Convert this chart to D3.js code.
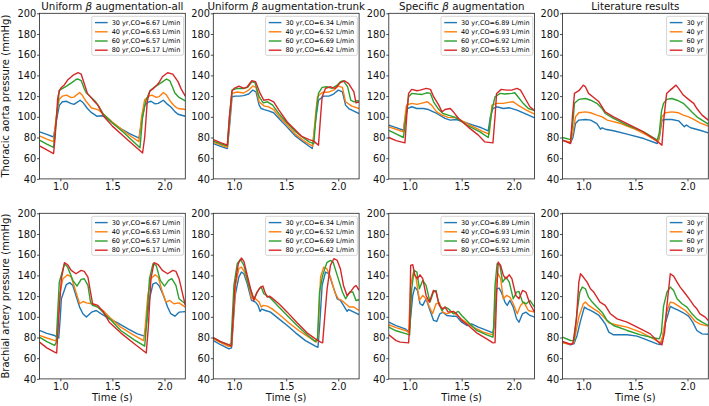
<!DOCTYPE html>
<html><head><meta charset="utf-8">
<script src="https://cdn.jsdelivr.net/npm/d3@7"></script>
<style>body{margin:0;background:#fff}svg{display:block}</style>
</head><body>
<svg id="chart" width="709" height="406"></svg>
<script>
// ---------- labels ----------
const titles = ["augmentation-all", "augmentation-trunk", "augmentation", "Literature results"];
const titlePrefix = ["Uniform ", "Uniform ", "Specific ", ""];
const rowLabels = ["Thoracic aorta pressure (mmHg)", "Brachial artery pressure (mmHg)"];
const ages = ["30 yr", "40 yr", "60 yr", "80 yr"];
const coAll = ["6.67", "6.63", "6.57", "6.17"];
const coTrunk = ["6.34", "6.52", "6.69", "6.42"];
const coSpecific = ["6.89", "6.93", "6.92", "6.53"];
const xTicks = [1.0, 1.5, 2.0];
const yTicks = [40, 60, 80, 100, 120, 140, 160, 180, 200];
const xDomain = [0.8, 2.2];
const yDomain = [40, 200];
const xLabel = "Time (s)";
const colors = ["#1f77b4", "#ff7f0e", "#2ca02c", "#d62728"];

// ---------- Thoracic aorta, uniform-all ----------
const aA30 = [[0.80,85.5],[0.87,83],[0.935,80.5],[0.96,95],[0.99,111],[1.02,114.5],[1.06,115],[1.10,113],[1.13,112],[1.16,114],[1.19,116],[1.22,113.5],[1.26,108],[1.30,104],[1.35,100.6],[1.40,101],[1.43,100],[1.50,94],[1.58,88.7],[1.66,84],[1.755,79.5],[1.78,95],[1.81,111],[1.84,114],[1.87,115],[1.91,112.5],[1.94,113],[1.99,116],[2.03,112],[2.06,109.7],[2.10,105],[2.13,102.5],[2.20,100.5]];
const aA40 = [[0.80,81.5],[0.87,78.5],[0.935,76],[0.96,100],[0.99,117],[1.02,120],[1.06,121],[1.10,118.7],[1.13,119],[1.185,123.5],[1.21,121],[1.25,114.5],[1.30,108.5],[1.36,107],[1.41,103],[1.50,95],[1.60,87],[1.68,81],[1.755,76],[1.78,100],[1.81,116.5],[1.85,120],[1.88,121],[1.92,118.7],[1.95,119.5],[1.99,123.5],[2.02,121],[2.06,114.5],[2.10,110],[2.13,108],[2.20,107]];
const aA60 = [[0.80,77.5],[0.87,73.5],[0.935,70.5],[0.96,95],[0.99,125.5],[1.03,128],[1.06,129.7],[1.11,133],[1.15,136],[1.17,136.5],[1.20,135],[1.23,127],[1.25,123],[1.30,118.5],[1.34,114.5],[1.37,110],[1.41,103],[1.50,94],[1.60,85.5],[1.68,78],[1.765,70],[1.79,100],[1.82,115],[1.86,125],[1.90,128.4],[1.94,131],[1.97,133],[2.02,136.5],[2.05,135],[2.08,128],[2.10,123],[2.14,118.7],[2.20,115.5]];
const aA80 = [[0.80,72],[0.87,68],[0.935,64.5],[0.95,80],[0.975,118],[0.99,125],[1.01,128.4],[1.04,131],[1.07,135.5],[1.12,140],[1.17,142.6],[1.20,141.3],[1.23,132],[1.26,122.6],[1.31,116.8],[1.36,111.3],[1.42,100],[1.50,91],[1.60,82],[1.70,73],[1.79,65],[1.81,80],[1.835,115],[1.86,125],[1.89,127],[1.93,131],[1.95,133.5],[1.98,138.7],[2.03,142.6],[2.08,141.3],[2.13,134],[2.16,127],[2.20,120]];

// ---------- Thoracic aorta, uniform-trunk ----------
const aT30 = [[0.80,74],[0.87,71.5],[0.935,69.3],[0.96,95],[0.98,119.4],[1.01,120],[1.05,120],[1.09,120.5],[1.14,122],[1.18,125.8],[1.21,124],[1.24,111.3],[1.26,108],[1.29,107],[1.33,105.8],[1.38,103.9],[1.43,98.4],[1.50,91],[1.59,81.3],[1.66,76],[1.72,71.6],[1.75,69.4],[1.78,95],[1.81,116],[1.86,120],[1.91,120],[1.955,122],[2.00,125.8],[2.04,124],[2.07,111.3],[2.10,108],[2.12,107],[2.20,103]];
const aT40 = [[0.80,75.5],[0.87,73],[0.935,70.5],[0.96,100],[0.98,122.6],[1.03,124],[1.09,123],[1.14,125.8],[1.18,129.7],[1.21,128.4],[1.24,114.5],[1.29,110.3],[1.33,109.7],[1.38,107],[1.43,100.6],[1.50,93],[1.59,83],[1.66,77.5],[1.72,73.5],[1.755,71.6],[1.78,100],[1.80,119.4],[1.845,123.5],[1.91,124],[1.955,125.8],[2.00,129.7],[2.04,128.4],[2.07,114.5],[2.13,110.3],[2.20,108]];
const aT60 = [[0.80,76.5],[0.87,74],[0.935,72],[0.955,100],[0.98,125.8],[1.03,127.4],[1.09,127.4],[1.13,128.4],[1.17,133.9],[1.20,133],[1.24,119.4],[1.28,113.5],[1.32,114.5],[1.37,111.3],[1.43,103],[1.50,95],[1.59,85.5],[1.66,80],[1.72,75.8],[1.765,74],[1.79,105],[1.81,122.6],[1.845,128.4],[1.89,129],[1.94,127.4],[1.99,130.6],[2.02,133.9],[2.05,134.8],[2.09,129],[2.12,116],[2.15,114.5],[2.18,115.5],[2.20,115]];
const aT80 = [[0.80,78],[0.87,75],[0.935,72.6],[0.955,100],[0.98,125],[1.00,127.4],[1.046,129.7],[1.094,127.4],[1.126,129],[1.17,134.8],[1.205,134],[1.25,122.6],[1.285,116],[1.33,116.8],[1.38,114.5],[1.43,106.5],[1.51,95],[1.59,87],[1.65,81],[1.72,78],[1.765,76.5],[1.81,72.6],[1.83,100],[1.845,119.4],[1.877,127.4],[1.925,129],[1.97,127.4],[2.02,133],[2.06,134.8],[2.10,132],[2.15,124],[2.17,113.5],[2.20,114.5]];

// ---------- Thoracic aorta, specific ----------
const aS30 = [[0.80,92],[0.87,89.5],[0.94,87],[0.96,100],[0.98,108],[1.02,109.7],[1.07,108],[1.13,108],[1.18,107],[1.26,103.2],[1.34,98.4],[1.39,96.8],[1.45,97.4],[1.52,95],[1.61,92],[1.69,89.4],[1.755,86.5],[1.775,100],[1.80,108],[1.835,109.7],[1.90,108],[1.96,108.7],[2.03,106.5],[2.12,102.6],[2.20,99]];
const aS40 = [[0.80,90.3],[0.87,88],[0.94,85.5],[0.955,100],[0.97,111.3],[1.02,113],[1.07,112],[1.13,113.5],[1.17,114.5],[1.21,111.3],[1.26,104.8],[1.31,101.6],[1.37,99.4],[1.45,99],[1.58,92],[1.70,86],[1.765,83.2],[1.78,100],[1.79,111.3],[1.835,113],[1.90,113],[1.96,114.2],[1.995,114.5],[2.04,111.3],[2.12,106.5],[2.20,102.5]];
const aS60 = [[0.80,87],[0.87,83.5],[0.94,80],[0.965,100],[0.99,119.4],[1.02,122.6],[1.07,122],[1.12,121.6],[1.165,123.2],[1.20,122.6],[1.23,114.5],[1.28,107],[1.32,103.2],[1.37,101.6],[1.44,99.4],[1.55,92],[1.675,85.5],[1.755,80],[1.79,106.5],[1.82,119.4],[1.87,122.6],[1.915,122],[1.98,122.6],[2.01,123.2],[2.04,119.4],[2.09,113],[2.14,108],[2.20,106]];
const aS80 = [[0.80,80],[0.87,77],[0.955,74.8],[0.975,105],[0.99,122.6],[1.02,126.5],[1.07,125.2],[1.10,125.8],[1.16,127.4],[1.20,126.5],[1.23,119.4],[1.28,111.3],[1.31,104.8],[1.34,107],[1.39,108],[1.42,104.8],[1.47,98.4],[1.56,90.3],[1.66,82.3],[1.72,75.8],[1.80,74.8],[1.82,100],[1.835,122.6],[1.88,126.5],[1.93,125.8],[1.98,125.8],[2.03,127.4],[2.065,125.8],[2.11,117.7],[2.155,109.7],[2.20,106]];

// ---------- Thoracic aorta, literature ----------
const aL30 = [[0.80,77.4],[0.877,74.8],[0.90,80],[0.925,93.5],[0.957,96.8],[1.02,97.4],[1.07,96.8],[1.13,93.5],[1.165,88],[1.18,89.4],[1.21,88],[1.29,86.5],[1.42,83.2],[1.58,79],[1.71,74.2],[1.73,80],[1.755,96.8],[1.79,97.4],[1.85,97.4],[1.915,96.1],[1.97,90.3],[1.99,92],[2.03,89.4],[2.12,87],[2.20,84.5]];
const aL40 = [[0.80,77],[0.877,75.8],[0.90,85],[0.925,100],[0.957,103.9],[1.02,104.8],[1.07,103.9],[1.13,101.6],[1.18,100],[1.23,96.8],[1.36,93.5],[1.48,88.7],[1.61,82.3],[1.72,75.8],[1.735,85],[1.755,100],[1.79,103.9],[1.85,104.8],[1.915,103.9],[1.96,101.6],[2.01,100],[2.06,97.4],[2.12,94.2],[2.20,91]];
const aL60 = [[0.80,80],[0.877,78],[0.90,95],[0.915,113],[0.957,116.8],[1.02,117.7],[1.07,116],[1.13,113],[1.18,108],[1.21,103.2],[1.29,98.4],[1.42,92],[1.58,85.5],[1.71,77.4],[1.73,85],[1.75,105],[1.77,113],[1.80,116.8],[1.85,117.7],[1.90,116],[1.96,113],[2.01,108],[2.04,104.8],[2.09,100],[2.20,93]];
const aL80 = [[0.80,77.4],[0.877,74.2],[0.895,100],[0.915,122.6],[0.957,125.2],[1.00,130.6],[1.02,129],[1.05,122.6],[1.10,118.7],[1.15,114.5],[1.18,109.7],[1.21,104.8],[1.29,100],[1.42,93.5],[1.55,87],[1.675,79],[1.755,72.6],[1.775,100],[1.80,122.6],[1.835,125.8],[1.89,130.6],[1.915,127.4],[1.96,121],[2.01,116.8],[2.06,113],[2.09,108],[2.14,101.6],[2.20,96.8]];

// ---------- Brachial artery, uniform-all ----------
const bA30 = [[0.80,86.8],[0.87,84],[0.945,81.9],[0.985,79.5],[1.00,100],[1.01,117.4],[1.057,131],[1.09,133],[1.12,130.3],[1.15,120.6],[1.185,109.4],[1.217,103],[1.25,99.7],[1.30,104.5],[1.345,106.1],[1.39,103],[1.46,98.7],[1.55,94.2],[1.65,88.4],[1.74,83.5],[1.81,81.3],[1.835,100],[1.856,117.4],[1.89,131.9],[1.92,133],[1.95,129.7],[1.99,120.6],[2.03,109.4],[2.06,103],[2.10,100.6],[2.14,104.5],[2.20,105]];
const bA40 = [[0.80,82],[0.87,79.5],[0.95,77],[0.97,77.5],[0.99,120],[1.025,136.8],[1.07,140.6],[1.105,138.4],[1.15,123.9],[1.185,112.6],[1.217,114.8],[1.25,113.5],[1.30,112.6],[1.345,110.3],[1.41,106.1],[1.49,98],[1.58,90],[1.70,82.6],[1.80,77],[1.815,90],[1.84,120.6],[1.87,136.8],[1.91,140.6],[1.94,138.4],[1.98,123.9],[2.015,114.2],[2.05,115.8],[2.09,112.6],[2.14,113.5],[2.20,109.4]];
const bA60 = [[0.80,80.3],[0.87,76],[0.945,72.3],[0.96,75],[0.99,133.5],[1.04,151.3],[1.07,148],[1.12,135.2],[1.16,129.7],[1.20,136.1],[1.23,136.8],[1.265,130.3],[1.29,114.2],[1.31,111],[1.36,109.4],[1.41,104.5],[1.49,96.5],[1.58,86.8],[1.71,77.7],[1.81,71.6],[1.83,95],[1.856,136.8],[1.89,151.3],[1.92,149.7],[1.96,135.2],[2.00,129.7],[2.04,135.2],[2.07,136.8],[2.11,130.3],[2.14,117.4],[2.20,112.6]];
const bA80 = [[0.80,75.5],[0.87,70],[0.945,65.8],[0.965,65],[0.985,100],[1.01,136.8],[1.04,152.3],[1.07,150.3],[1.105,144.8],[1.15,141.6],[1.20,144.8],[1.23,143.9],[1.265,138.4],[1.29,123.9],[1.31,112.6],[1.36,111],[1.41,105.2],[1.47,94.8],[1.58,84.5],[1.71,73.9],[1.825,65],[1.845,90],[1.87,136.8],[1.90,152.3],[1.94,150.3],[1.98,144.8],[2.03,141.6],[2.08,144.8],[2.11,143.9],[2.14,136.8],[2.17,123.9],[2.20,111]];

// ---------- Brachial artery, uniform-trunk ----------
const bT30 = [[0.80,77],[0.87,73],[0.95,69],[0.975,70],[1.01,120.6],[1.045,138.4],[1.07,143.2],[1.094,141.6],[1.126,131.9],[1.167,115.8],[1.205,114.2],[1.23,111],[1.25,105.2],[1.265,107.5],[1.30,106.1],[1.35,104.5],[1.43,98],[1.51,91.6],[1.59,84.5],[1.685,77],[1.78,71.6],[1.805,70.6],[1.82,90],[1.845,130.3],[1.877,143.2],[1.91,141.6],[1.947,130.3],[1.99,117.4],[2.02,115.8],[2.05,111],[2.085,105.2],[2.10,107],[2.15,104.5],[2.20,102]];
const bT40 = [[0.80,78.7],[0.87,75],[0.95,71.3],[0.975,72],[1.014,130.3],[1.045,146.5],[1.07,148],[1.10,143.2],[1.14,130.3],[1.17,117.4],[1.20,118],[1.24,114.2],[1.26,109.4],[1.28,111],[1.32,110.3],[1.365,107.7],[1.445,101.3],[1.525,94.2],[1.62,86.8],[1.717,80.3],[1.787,75.5],[1.805,80],[1.83,138.4],[1.86,148],[1.89,146.5],[1.925,138.4],[1.966,123.9],[2.00,117.4],[2.035,115.8],[2.07,112.6],[2.107,109.4],[2.15,109.4],[2.20,106.1]];
const bT60 = [[0.80,79.7],[0.87,76],[0.95,72.9],[0.97,74],[0.998,130.3],[1.03,151.3],[1.06,155.5],[1.094,149.7],[1.14,130.3],[1.19,117.4],[1.24,127.1],[1.26,128.7],[1.285,122.3],[1.31,120.6],[1.35,118],[1.43,109.4],[1.51,101.3],[1.605,91.6],[1.70,82.6],[1.78,76.2],[1.80,78],[1.82,123.9],[1.85,140],[1.89,152.3],[1.925,154.5],[1.95,152.9],[1.99,140],[2.04,123.9],[2.07,117.4],[2.11,123.9],[2.14,123.9],[2.17,115.8],[2.20,116.5]];
const bT80 = [[0.80,80],[0.87,76],[0.95,72.9],[0.975,71.6],[1.008,130.3],[1.04,151.3],[1.07,156.8],[1.094,153.5],[1.126,140],[1.158,127.1],[1.19,115.8],[1.22,123.9],[1.254,128.7],[1.276,129.7],[1.295,123.9],[1.318,119],[1.34,120],[1.365,118],[1.43,112.6],[1.51,104.5],[1.605,94.2],[1.70,84.5],[1.78,78.7],[1.83,75.5],[1.85,74.8],[1.87,100],[1.893,127.1],[1.925,149.7],[1.957,156.1],[1.99,154.5],[2.02,146.5],[2.05,130.3],[2.084,120.6],[2.116,123.9],[2.15,128.7],[2.17,130.3],[2.20,125.5]];

// ---------- Brachial artery, specific ----------
const bS30 = [[0.80,94.8],[0.87,91.5],[0.957,88.4],[0.99,85.8],[1.00,90],[1.03,120.6],[1.05,128.7],[1.075,125.5],[1.10,112.6],[1.126,111],[1.158,117.4],[1.19,107.7],[1.23,96.5],[1.26,95.5],[1.29,102.9],[1.32,104.5],[1.356,101.3],[1.404,100.6],[1.45,100.6],[1.50,94.8],[1.55,91.6],[1.595,93.2],[1.66,90],[1.74,86.8],[1.80,84.5],[1.81,90],[1.835,127.1],[1.86,127.7],[1.88,123.9],[1.915,114.2],[1.937,111],[1.963,115.8],[1.995,109.4],[2.027,98],[2.05,94.8],[2.084,102.9],[2.116,104.5],[2.155,101.3],[2.20,99.7]];
const bS40 = [[0.80,92.3],[0.87,89.5],[0.957,86.8],[0.99,85],[1.01,130.3],[1.036,143.2],[1.06,138.4],[1.094,115.8],[1.126,120.6],[1.158,117.4],[1.19,109.4],[1.22,102.9],[1.254,112.6],[1.285,113.5],[1.317,104.5],[1.356,102.9],[1.404,104.5],[1.45,102],[1.515,96.5],[1.61,90],[1.707,85.2],[1.80,82.6],[1.81,95],[1.83,133.5],[1.85,141.6],[1.874,136.8],[1.90,117.4],[1.93,120.6],[1.963,119],[1.995,112.6],[2.033,102.9],[2.065,111],[2.097,114.2],[2.14,106.1],[2.20,104.5]];
const bS60 = [[0.80,90],[0.87,86.5],[0.97,83.5],[1.00,82.5],[1.02,127.1],[1.043,144.8],[1.07,143.2],[1.094,127.1],[1.126,135.2],[1.158,130.3],[1.196,114.2],[1.228,123.9],[1.254,125.5],[1.276,114.2],[1.31,106.1],[1.34,109.4],[1.37,108],[1.42,102.9],[1.468,105.2],[1.50,101.3],[1.564,94.8],[1.643,86.8],[1.74,82.6],[1.80,80.3],[1.805,85],[1.82,130.3],[1.84,151.3],[1.867,149.7],[1.893,133.5],[1.925,138.4],[1.957,133.5],[1.995,117.4],[2.027,123.9],[2.05,124.5],[2.084,114.2],[2.12,112.6],[2.155,115.8],[2.20,109.4]];
const bS80 = [[0.80,82.6],[0.87,77],[0.91,75.5],[0.99,74.8],[1.00,90],[1.01,149.7],[1.03,150.3],[1.05,140],[1.075,136.8],[1.10,140.6],[1.126,136.8],[1.158,120.6],[1.19,114.2],[1.228,125.5],[1.254,123.9],[1.285,111],[1.317,107.7],[1.34,109.4],[1.37,104.5],[1.42,105.2],[1.45,103],[1.50,96.5],[1.564,91.6],[1.643,84.5],[1.74,78.7],[1.80,74.8],[1.82,75],[1.835,120],[1.85,152.9],[1.874,149.7],[1.90,140],[1.925,136.8],[1.957,140.6],[1.982,136.8],[2.02,120.6],[2.05,117.4],[2.084,125.5],[2.116,123.9],[2.155,112.6],[2.20,104.5]];

// ---------- Brachial artery, literature ----------
const bL30 = [[0.80,75.5],[0.877,72.9],[0.91,74],[0.94,82],[0.97,94.8],[1.01,109.4],[1.036,107.7],[1.068,106.1],[1.10,104.5],[1.15,101.3],[1.18,97.4],[1.21,93.2],[1.245,85.2],[1.29,82.6],[1.42,82.6],[1.516,81.3],[1.61,77.7],[1.707,73.9],[1.74,73.2],[1.76,80],[1.79,94.8],[1.835,110],[1.867,108.4],[1.915,106.1],[1.96,103.9],[2.01,100.6],[2.05,94.8],[2.09,86.8],[2.14,83.5],[2.20,83.2]];
const bL40 = [[0.80,74.8],[0.877,73.5],[0.91,75.5],[0.957,99.7],[1.00,112.6],[1.02,114.2],[1.052,111],[1.10,107.7],[1.15,104.5],[1.196,99.7],[1.245,94.2],[1.31,92.3],[1.42,90],[1.55,85.2],[1.675,78.7],[1.74,74.8],[1.76,80],[1.80,104.5],[1.835,114.2],[1.867,113.5],[1.915,110.3],[1.98,106.1],[2.027,101.3],[2.075,95.5],[2.12,92.9],[2.20,91]];
const bL60 = [[0.80,80.3],[0.877,77.1],[0.91,77],[0.94,104.5],[0.966,123.9],[0.99,128.7],[1.02,127.1],[1.05,119],[1.085,114.2],[1.13,109.4],[1.18,104.5],[1.228,96.5],[1.29,91.6],[1.42,86.8],[1.55,82.6],[1.643,80.3],[1.73,78.7],[1.75,85],[1.77,110],[1.803,123.9],[1.835,128.7],[1.867,125.5],[1.90,117.4],[1.947,112.6],[1.995,109.4],[2.043,102.9],[2.09,98],[2.14,94.8],[2.20,91.6]];
const bL80 = [[0.80,76.1],[0.877,73.5],[0.90,74],[0.934,98],[0.957,133.5],[0.973,141.6],[1.00,138.4],[1.036,133.5],[1.068,127.1],[1.10,123.9],[1.13,119],[1.16,114.2],[1.21,111],[1.26,102.9],[1.324,98],[1.42,94.8],[1.55,88.4],[1.643,83.5],[1.723,75.5],[1.755,72.9],[1.78,85],[1.803,111],[1.835,141.6],[1.867,139.3],[1.90,133.5],[1.93,128.7],[1.98,122.3],[2.027,115.8],[2.06,111],[2.09,107.7],[2.12,102.9],[2.17,99.7],[2.20,96.5]];

// ---------- drawing ----------
const FONT = "'DejaVu Sans', sans-serif";
const svg = d3.select("#chart");
const colLeft = [39.5, 213.3, 388.8, 562.5];
const rowTop = [13.3, 213.3];
const panelW = 145.8, panelH = 165.6;

const panels = [
  {row:0, col:0, series:[aA30,aA40,aA60,aA80], co:coAll},
  {row:0, col:1, series:[aT30,aT40,aT60,aT80], co:coTrunk},
  {row:0, col:2, series:[aS30,aS40,aS60,aS80], co:coSpecific},
  {row:0, col:3, series:[aL30,aL40,aL60,aL80], co:null},
  {row:1, col:0, series:[bA30,bA40,bA60,bA80], co:coAll},
  {row:1, col:1, series:[bT30,bT40,bT60,bT80], co:coTrunk},
  {row:1, col:2, series:[bS30,bS40,bS60,bS80], co:coSpecific},
  {row:1, col:3, series:[bL30,bL40,bL60,bL80], co:null}
];

const defs = svg.append("defs");

panels.forEach((p, i) => {
  const x0 = colLeft[p.col], y0 = rowTop[p.row];
  const x = d3.scaleLinear().domain(xDomain).range([x0, x0 + panelW]);
  const y = d3.scaleLinear().domain(yDomain).range([y0 + panelH, y0]);
  const g = svg.append("g");

  defs.append("clipPath").attr("id", "clip" + i).append("rect")
    .attr("x", x0).attr("y", y0).attr("width", panelW).attr("height", panelH);

  const line = d3.line().x(d => x(d[0])).y(d => y(d[1]));
  g.append("g").attr("clip-path", `url(#clip${i})`)
    .selectAll("path").data(p.series).join("path")
    .attr("d", line).attr("fill", "none")
    .attr("stroke", (d, j) => colors[j]).attr("stroke-width", 1.4)
    .attr("stroke-linejoin", "round");

  // axes
  const axB = g.append("g").attr("transform", `translate(0,${y0 + panelH})`)
    .call(d3.axisBottom(x).tickValues(xTicks).tickFormat(d3.format(".1f"))
      .tickSize(2.5).tickPadding(1.5).tickSizeOuter(0));
  const axL = g.append("g").attr("transform", `translate(${x0},0)`)
    .call(d3.axisLeft(y).tickValues(yTicks).tickSize(2.5).tickPadding(0.8).tickSizeOuter(0));
  [axB, axL].forEach(a => {
    a.attr("font-family", FONT).attr("font-size", 9.8);
    a.select(".domain").remove();
    a.selectAll(".tick line").attr("stroke", "#222").attr("stroke-width", 0.8);
    a.selectAll(".tick text").attr("fill", "#111");
  });

  // frame
  g.append("rect").attr("x", x0).attr("y", y0).attr("width", panelW).attr("height", panelH)
    .attr("fill", "none").attr("stroke", "#222").attr("stroke-width", 0.8);

  // title (top row only)
  if (p.row === 0) {
    const t = g.append("text").attr("x", x0 + panelW / 2).attr("y", 9.6)
      .attr("text-anchor", "middle").attr("font-family", FONT).attr("font-size", 10.3).attr("fill", "#111");
    if (titlePrefix[p.col]) {
      t.append("tspan").text(titlePrefix[p.col]);
      t.append("tspan").attr("font-style", "italic").text("β");
      t.append("tspan").text(" " + titles[p.col]);
    } else {
      t.text(titles[p.col]);
    }
  }

  // x label (bottom row)
  if (p.row === 1) {
    g.append("text").attr("x", x0 + panelW / 2).attr("y", 400.5)
      .attr("text-anchor", "middle").attr("font-family", FONT).attr("font-size", 10)
      .attr("fill", "#111").text(xLabel);
  }

  // y label (first column)
  if (p.col === 0) {
    g.append("text").attr("transform", `translate(8.6,${y0 + panelH / 2}) rotate(-90)`)
      .attr("text-anchor", "middle").attr("font-family", FONT).attr("font-size", 10)
      .attr("fill", "#111").text(rowLabels[p.row]);
  }

  // legend
  const labels = p.co ? ages.map((a, j) => `${a},CO=${p.co[j]} L/min`) : ages;
  const fs = 6.5, rowH = 9.2, pad = 3.2, lineLen = 12.7, gap = 4;
  const lg = g.append("g");
  const box = lg.append("rect");
  const texts = lg.selectAll("text").data(labels).join("text")
    .attr("font-family", FONT).attr("font-size", fs).attr("fill", "#000").text(d => d);
  const maxW = d3.max(texts.nodes(), n => n.getComputedTextLength());
  const boxW = pad + lineLen + gap + maxW + pad;
  const boxH = 39;
  const bx = x0 + panelW - 1.8 - boxW, by = y0 + 3;
  box.attr("x", bx).attr("y", by).attr("width", boxW).attr("height", boxH)
    .attr("rx", 1.5).attr("fill", "#fff").attr("fill-opacity", 0.85)
    .attr("stroke", "#cccccc").attr("stroke-width", 0.8);
  texts.attr("x", bx + pad + lineLen + gap).attr("y", (d, j) => by + 6.3 + j * rowH + fs * 0.35);
  lg.selectAll("line").data(labels).join("line")
    .attr("x1", bx + pad).attr("x2", bx + pad + lineLen)
    .attr("y1", (d, j) => by + 6.3 + j * rowH).attr("y2", (d, j) => by + 6.3 + j * rowH)
    .attr("stroke", (d, j) => colors[j]).attr("stroke-width", 1.4);
});
</script>
</body></html>
